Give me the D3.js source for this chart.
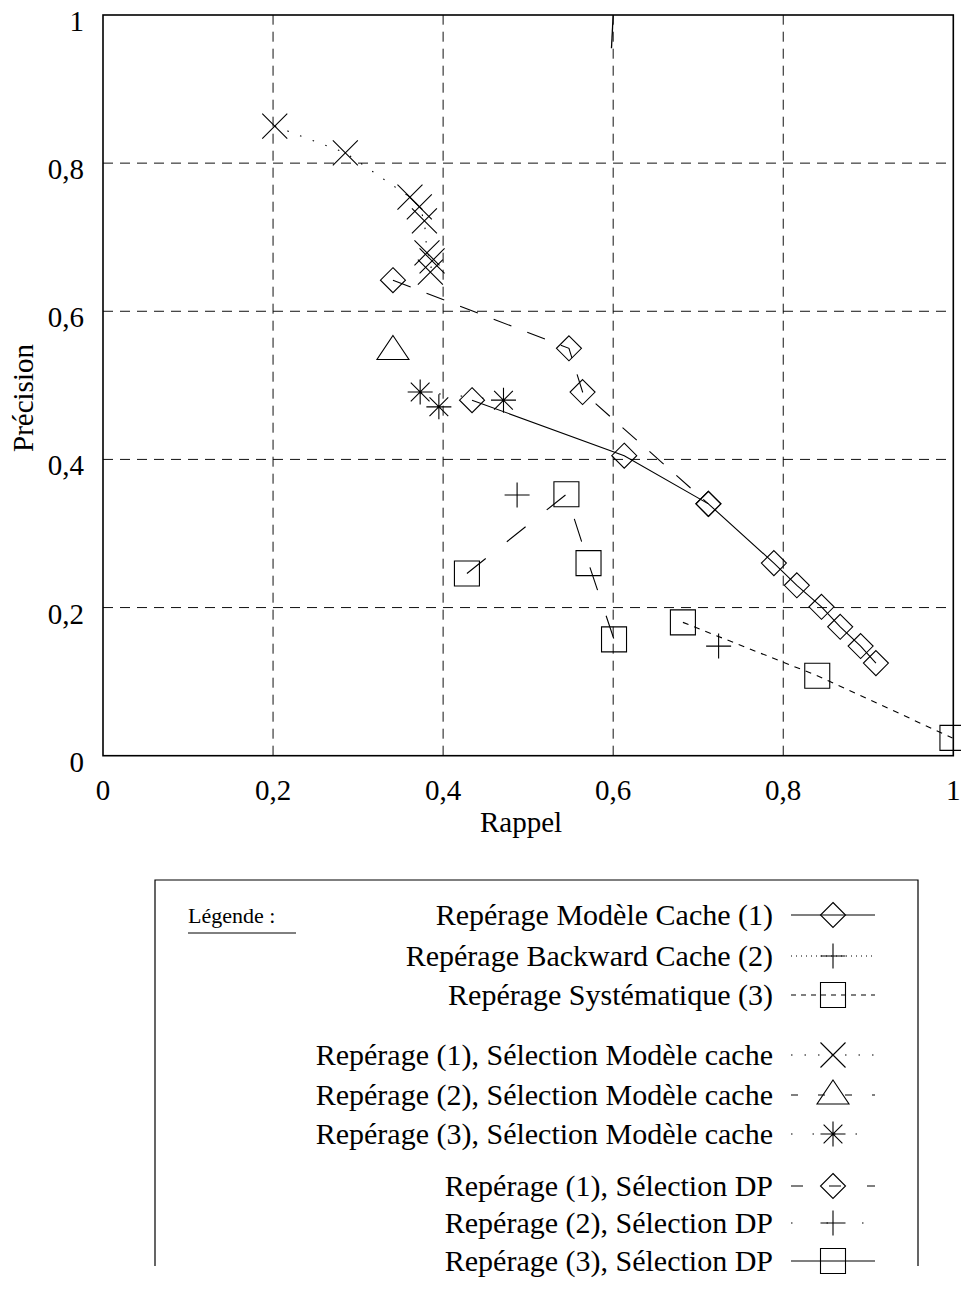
<!DOCTYPE html>
<html>
<head>
<meta charset="utf-8">
<script src="https://cdn.jsdelivr.net/npm/d3@7/dist/d3.min.js"></script>
<style>
  html, body { margin: 0; padding: 0; background: #fff; }
  svg { display: block; }
  text { font-family: "Liberation Serif", "Times New Roman", serif; fill: #000; }
</style>
</head>
<body>
<svg id="chart" width="961" height="1292"></svg>
<script>
// ---------------- DATA ----------------
const xTicks = [0, 0.2, 0.4, 0.6, 0.8, 1];
const xTickLabels = ["0", "0,2", "0,4", "0,6", "0,8", "1"];
const yTicks = [0, 0.2, 0.4, 0.6, 0.8, 1];
const yTickLabels = ["0", "0,2", "0,4", "0,6", "0,8", "1"];
const xTitle = "Rappel";
const yTitle = "Précision";
const legendTitle = "Légende :";

// Repérage Modèle Cache (1)
const modeleCacheX = [0.434, 0.613, 0.712, 0.789, 0.816, 0.845, 0.867, 0.891, 0.909];
const modeleCacheY = [0.480, 0.405, 0.340, 0.260, 0.230, 0.201, 0.174, 0.148, 0.125];
// Repérage Backward Cache (2)
const backwardX = [0.724];
const backwardY = [0.148];
// Repérage Systématique (3)
const systematiqueX = [0.682, 0.840, 0.999];
const systematiqueY = [0.180, 0.108, 0.024];
// Repérage (1), Sélection Modèle cache
const rep1SelCacheX = [0.202, 0.285, 0.361, 0.372, 0.378, 0.381, 0.387, 0.385];
const rep1SelCacheY = [0.850, 0.814, 0.754, 0.741, 0.722, 0.679, 0.668, 0.653];
// Repérage (2), Sélection Modèle cache
const rep2SelCacheX = [0.341];
const rep2SelCacheY = [0.547];
// Repérage (3), Sélection Modèle cache
const rep3SelCacheX = [0.395, 0.373, 0.471];
const rep3SelCacheY = [0.471, 0.491, 0.480];
// Repérage (1), Sélection DP
const rep1SelDPX = [0.341, 0.548, 0.564, 0.712];
const rep1SelDPY = [0.642, 0.550, 0.491, 0.340];
// Repérage (2), Sélection DP
const rep2SelDPX = [0.487];
const rep2SelDPY = [0.352];
// Repérage (3), Sélection DP
const rep3SelDPX = [0.428, 0.545, 0.571, 0.601];
const rep3SelDPY = [0.246, 0.353, 0.260, 0.157];
// stray segment leaving the top of the frame
const strayX = [0.600, 0.598];
const strayY = [1.0, 0.955];

// ---------------- SERIES CONFIG ----------------
const series = [
  { name: "Repérage Modèle Cache (1)", xs: modeleCacheX, ys: modeleCacheY, marker: "diamond", dash: null, legendDash: null },
  { name: "Repérage Backward Cache (2)", xs: backwardX, ys: backwardY, marker: "plus", dash: "1,4", legendDash: "1,4" },
  { name: "Repérage Systématique (3)", xs: systematiqueX, ys: systematiqueY, marker: "square", dash: "6,6", legendDash: "5,5" },
  { name: "Repérage (1), Sélection Modèle cache", xs: rep1SelCacheX, ys: rep1SelCacheY, marker: "cross", dash: "1.5,12", legendDash: "1.5,12" },
  { name: "Repérage (2), Sélection Modèle cache", xs: rep2SelCacheX, ys: rep2SelCacheY, marker: "triangle", dash: "10,14", legendDash: "7,20" },
  { name: "Repérage (3), Sélection Modèle cache", xs: rep3SelCacheX, ys: rep3SelCacheY, marker: "star", dash: "1.5,20", legendDash: "1.5,20" },
  { name: "Repérage (1), Sélection DP", xs: rep1SelDPX, ys: rep1SelDPY, marker: "diamond", dash: "19,17", legendDash: "12,26" },
  { name: "Repérage (2), Sélection DP", xs: rep2SelDPX, ys: rep2SelDPY, marker: "plus", dash: "1.5,30", legendDash: "1.5,34" },
  { name: "Repérage (3), Sélection DP", xs: rep3SelDPX, ys: rep3SelDPY, marker: "square", dash: "24,27", legendDash: null }
];

// ---------------- LAYOUT ----------------
const svg = d3.select("#chart");
const x = d3.scaleLinear().domain([0, 1]).range([103, 953.3]);
const y = d3.scaleLinear().domain([0, 1]).range([755.7, 15]);

function markerPath(type) {
  const s = 12.5;
  switch (type) {
    case "diamond": return `M0,${-s}L${s},0L0,${s}L${-s},0Z`;
    case "square": return `M${-s},${-s}H${s}V${s}H${-s}Z`;
    case "plus": return `M${-s},0H${s}M0,${-s}V${s}`;
    case "cross": return `M${-s},${-s}L${s},${s}M${-s},${s}L${s},${-s}`;
    case "star": {
      const d = s * 0.75;
      return `M${-s},0H${s}M0,${-s}V${s}M${-d},${-d}L${d},${d}M${-d},${d}L${d},${-d}`;
    }
    case "triangle": return `M0,-15L16,9L-16,9Z`;
  }
  return "";
}

// grid
const grid = svg.append("g").attr("stroke", "#111").attr("stroke-width", 1).attr("stroke-dasharray", "10,7").attr("fill", "none");
xTicks.filter(t => t > 0 && t < 1).forEach(t => {
  grid.append("line").attr("x1", x(t)).attr("x2", x(t)).attr("y1", y(0)).attr("y2", y(1));
});
yTicks.filter(t => t > 0 && t < 1).forEach(t => {
  grid.append("line").attr("x1", x(0)).attr("x2", x(1)).attr("y1", y(t)).attr("y2", y(t));
});

// frame
svg.append("rect")
  .attr("x", x(0)).attr("y", y(1))
  .attr("width", x(1) - x(0)).attr("height", y(0) - y(1))
  .attr("fill", "none").attr("stroke", "#000").attr("stroke-width", 1.6);

// tick labels
svg.append("g").selectAll("text").data(xTicks).join("text")
  .attr("x", d => x(d)).attr("y", y(0) + 44)
  .attr("text-anchor", "middle").attr("font-size", 29)
  .text((d, i) => xTickLabels[i]);
svg.append("g").selectAll("text").data(yTicks).join("text")
  .attr("x", 84).attr("y", d => y(d) + 16)
  .attr("text-anchor", "end").attr("font-size", 29)
  .text((d, i) => yTickLabels[i]);

// axis titles
svg.append("text").attr("x", 521).attr("y", 832).attr("text-anchor", "middle").attr("font-size", 29).text(xTitle);
svg.append("text").attr("transform", "translate(33,398) rotate(-90)").attr("text-anchor", "middle").attr("font-size", 29).text(yTitle);

// series
const line = d3.line().x(d => x(d[0])).y(d => y(d[1]));
const plot = svg.append("g");
plot.append("path").datum(strayX.map((v, i) => [v, strayY[i]]))
  .attr("d", line).attr("fill", "none").attr("stroke", "#000").attr("stroke-width", 1.3);

series.forEach(s => {
  const pts = s.xs.map((v, i) => [v, s.ys[i]]);
  if (pts.length > 1) {
    plot.append("path").datum(pts)
      .attr("d", line).attr("fill", "none").attr("stroke", "#000").attr("stroke-width", 1.1)
      .attr("stroke-dasharray", s.dash);
  }
  plot.append("g").selectAll("path").data(pts).join("path")
    .attr("transform", d => `translate(${x(d[0])},${y(d[1])})`)
    .attr("d", markerPath(s.marker))
    .attr("fill", "none").attr("stroke", "#000").attr("stroke-width", 1.1);
});

// legend
const lg = svg.append("g");
lg.append("path").attr("d", "M155,1266V880H918V1266")
  .attr("fill", "none").attr("stroke", "#000").attr("stroke-width", 1.2);
lg.append("text").attr("x", 188).attr("y", 923).attr("font-size", 22).text(legendTitle);
lg.append("line").attr("x1", 188).attr("x2", 296).attr("y1", 933).attr("y2", 933).attr("stroke", "#000").attr("stroke-width", 1);

const rowY = [915, 956, 995, 1055, 1095, 1134, 1186, 1223, 1261];
series.forEach((s, i) => {
  const yy = rowY[i];
  lg.append("text").attr("x", 773).attr("y", yy + 10).attr("text-anchor", "end").attr("font-size", 30).text(s.name);
  lg.append("line").attr("x1", 791).attr("x2", 875).attr("y1", yy).attr("y2", yy)
    .attr("stroke", "#000").attr("stroke-width", 1.1).attr("stroke-dasharray", s.legendDash);
  lg.append("path").attr("transform", `translate(833,${yy})`).attr("d", markerPath(s.marker))
    .attr("fill", "none").attr("stroke", "#000").attr("stroke-width", 1.1);
});
</script>
</body>
</html>
